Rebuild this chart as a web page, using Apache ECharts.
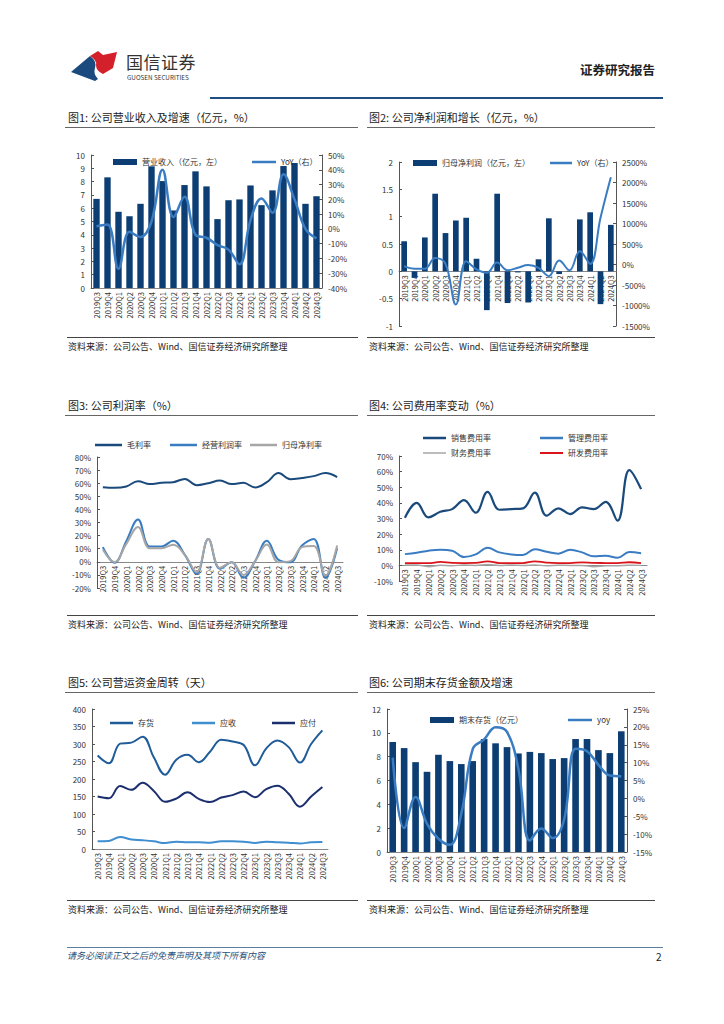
<!DOCTYPE html>
<html><head><meta charset="utf-8">
<script src="https://cdn.jsdelivr.net/npm/echarts@6/dist/echarts.min.js"></script>
<style>
html,body{margin:0;padding:0;background:#fff;}
#page{position:relative;width:724px;height:1024px;overflow:hidden;font-family:"Noto Sans CJK SC","Noto Sans",sans-serif;color:#222;}
#chart{position:absolute;left:0;top:0;width:724px;height:1024px;}
.t{position:absolute;white-space:nowrap;line-height:1.2;}
.ln{position:absolute;height:0;}
.title{font-size:11px;color:#222;}
.src{font-size:9px;color:#222;}
</style></head>
<body><div id="page">
<div id="chart"></div>
<svg style="position:absolute;left:66px;top:48px" width="60" height="36" viewBox="0 0 60 36">
  <path d="M5,24 L24,8 Q31,13 29,20 Q27,26 32,31 L29,33 Z" fill="#1b4a7e"/>
  <path d="M24,8 L32,3 L37,7 L51,4 L47,20 L37,26 Q30,23 30,17 Q31,12 24,8 Z" fill="#d3202a"/>
</svg>
<div class="t" style="left:126px;top:53px;font-size:17px;line-height:1;color:#333;letter-spacing:0.5px;">国信证券</div>
<div class="t" style="left:127px;top:75px;font-size:6.3px;line-height:1;color:#333;">GUOSEN SECURITIES</div>
<div class="t" style="left:580px;top:62px;font-size:12.5px;font-weight:bold;color:#222;">证券研究报告</div>
<div class="ln" style="left:210px;top:97px;width:453px;border-top:2px solid #1f4e86;"></div>

<div class="t title" style="left:68px;top:111px;">图1: 公司营业收入及增速（亿元，%）</div>
<div class="ln" style="left:65px;top:127px;width:293px;border-top:1px solid #666;"></div>
<div class="t title" style="left:369px;top:111px;">图2: 公司净利润和增长（亿元，%）</div>
<div class="ln" style="left:367px;top:127px;width:288px;border-top:1px solid #666;"></div>
<div class="ln" style="left:67px;top:337px;width:291px;border-top:1px solid #444;"></div>
<div class="t src" style="left:68px;top:342px;">资料来源：公司公告、Wind、国信证券经济研究所整理</div>
<div class="ln" style="left:367px;top:337px;width:288px;border-top:1px solid #444;"></div>
<div class="t src" style="left:369px;top:342px;">资料来源：公司公告、Wind、国信证券经济研究所整理</div>

<div class="t title" style="left:68px;top:399px;">图3: 公司利润率（%）</div>
<div class="ln" style="left:65px;top:415px;width:293px;border-top:1px solid #666;"></div>
<div class="t title" style="left:369px;top:399px;">图4: 公司费用率变动（%）</div>
<div class="ln" style="left:367px;top:415px;width:288px;border-top:1px solid #666;"></div>
<div class="ln" style="left:67px;top:615px;width:291px;border-top:1px solid #444;"></div>
<div class="t src" style="left:68px;top:620px;">资料来源：公司公告、Wind、国信证券经济研究所整理</div>
<div class="ln" style="left:367px;top:615px;width:288px;border-top:1px solid #444;"></div>
<div class="t src" style="left:369px;top:620px;">资料来源：公司公告、Wind、国信证券经济研究所整理</div>

<div class="t title" style="left:68px;top:676px;">图5: 公司营运资金周转（天）</div>
<div class="ln" style="left:65px;top:692px;width:293px;border-top:1px solid #666;"></div>
<div class="t title" style="left:369px;top:676px;">图6: 公司期末存货金额及增速</div>
<div class="ln" style="left:367px;top:692px;width:288px;border-top:1px solid #666;"></div>
<div class="ln" style="left:67px;top:900px;width:291px;border-top:1px solid #444;"></div>
<div class="t src" style="left:68px;top:905px;">资料来源：公司公告、Wind、国信证券经济研究所整理</div>
<div class="ln" style="left:367px;top:900px;width:288px;border-top:1px solid #444;"></div>
<div class="t src" style="left:369px;top:905px;">资料来源：公司公告、Wind、国信证券经济研究所整理</div>

<div class="ln" style="left:67px;top:947px;width:596px;border-top:1px solid #5c7fa0;"></div>
<div class="t" style="left:67px;top:951px;font-size:9px;font-style:italic;color:#2a4f7a;">请务必阅读正文之后的免责声明及其项下所有内容</div>
<div class="t" style="left:656px;top:951px;font-size:10px;color:#222;">2</div>
</div>
<script>
var quarters = ['2019Q3','2019Q4','2020Q1','2020Q2','2020Q3','2020Q4','2021Q1','2021Q2','2021Q3','2021Q4','2022Q1','2022Q2','2022Q3','2022Q4','2023Q1','2023Q2','2023Q3','2023Q4','2024Q1','2024Q2','2024Q3'];
// Fig1
var revenue = [6.7,8.32,5.73,5.4,6.33,9.15,8.04,5.83,7.74,8.77,7.64,5.18,6.6,6.66,7.71,6.23,7.34,9.17,9.4,6.33,6.9];
var revenueYoY = [1.8,3,-27,-2,-5.5,5,40,8,21.7,-4,-6,-11,-14,-24,6,20.5,11,37,20,0,-6.5];
// Fig2
var netProfit = [0.55,-0.12,0.62,1.42,0.70,0.93,0.98,0.23,-0.71,1.42,-0.58,-0.02,-0.57,0.22,0.97,-0.05,0.01,0.95,1.08,-0.6,0.85];
var netProfitYoY = [-40,-105,-105,160,15,-975,80,-120,-200,50,-140,-80,-15,-80,-285,100,-140,325,15,1140,2130];
// Fig3
var grossMargin = [57,56.5,57.5,61.5,59.3,60.3,60.8,63.3,58.5,60,62,59.3,60.3,56.7,60.8,67.7,63,64,65.4,67.7,64.6];
var opMargin = [11.2,-0.8,15.8,32.3,11.7,11.7,16,5.3,-9.2,17.5,-5.3,-0.3,-12.2,0.5,16,1.5,-0.3,12.5,17.5,-12.2,10.4];
var netMargin = [9.4,-0.3,13.7,26.5,10.4,10.4,13,5.3,-7.9,17.5,-4.6,-0.3,-10,0.5,13.2,-0.3,0.5,11.2,12,-10.4,12.5];
// Fig4
var sellingRate = [30.5,40,30.7,34.3,36,41.8,33.7,47,35.6,36,36.5,46.5,31.8,36.5,32.8,37.1,36,40.7,28.6,61,48.8];
var adminRate = [7.2,8.1,9.4,10,9.4,5.3,7,11.3,8.3,7,6.6,10.4,8.7,7.5,10,8.3,5.8,6.2,4.9,8.5,7.7];
var financeRate = [0.3,0.2,-0.8,0.1,-0.2,0.2,0.0,0.5,-0.1,0.2,0.0,0.3,-0.3,0.1,0.0,0.0,-0.9,-0.3,-0.2,0.1,0.0];
var rdRate = [1.5,1.5,1.4,2.2,1.6,1.5,1.6,2.6,1.5,1.4,1.5,2.6,1.8,1.5,1.5,1.9,1.6,1.5,1.4,2.0,1.4];
// Fig5
var inventoryDays = [267,245,301,304,321,262,212,255,269,248,278,312,307,297,239,287,310,291,247,300,339];
var receivableDays = [22,23,34,27,25,22,17,21,19,19,18,22,22,21,17,21,19,18,16,19,20];
var payableDays = [150,145,180,169,189,166,135,144,162,143,134,147,154,164,148,171,181,158,121,150,177];
// Fig6
var inventory = [9.23,8.72,7.54,6.73,8.16,7.63,7.38,7.63,9.48,9.12,8.8,8.27,8.4,8.3,7.8,7.88,9.48,9.48,8.55,8.3,10.13];
var inventoryYoY = [11.4,-8.3,0.4,-7.1,-11.3,-13,-4.3,13.8,16.5,19.9,18.6,8.2,-11.8,-8.4,-11.1,-5.9,13.9,13.2,9.4,6.4,6.2];

var FONT = '"Noto Sans CJK SC","Noto Sans",sans-serif';
var NAVY = '#0c3e73', BLUE = '#3a7cc2', DARK = '#1a4a7c', GRAY = '#a6a6a6', RED = '#d9151b';
var axisLineStyle = {lineStyle:{color:'#555',width:1}};
var lab = {fontSize:8,color:'#333',fontFamily:FONT};

function xAxis(grid, offset){
  return {type:'category',gridIndex:grid,data:quarters,offset:offset||0,
    axisLine:{onZero:false,lineStyle:{color:'#888',width:1}},axisTick:{show:false},
    axisLabel:{rotate:90,interval:0,fontSize:7.5,color:'#333',fontFamily:FONT,margin:4}};
}
function yAxis(grid,min,max,interval,fmt,extra){
  return Object.assign({type:'value',gridIndex:grid,min:min,max:max,interval:interval,
    splitLine:{show:false},axisLine:Object.assign({show:true},axisLineStyle),
    axisTick:{show:true,inside:true,length:3,lineStyle:{color:'#555'}},
    axisLabel:Object.assign({formatter:fmt,margin:6},lab)},extra||{});
}
function lg(name,left,top,h,w){
  return {data:[name],left:left,top:top,itemWidth:w||24,itemHeight:h,itemGap:4,
    textStyle:{fontSize:8,color:'#333',fontFamily:FONT},selectedMode:false,icon:'rect'};
}
function line(name,x,y,data,color,w,sm){
  return {name:name,type:'line',xAxisIndex:x,yAxisIndex:y,data:data,smooth:sm===undefined?0.4:sm,
    symbol:'none',lineStyle:{color:color,width:w||2},itemStyle:{color:color}};
}
var pct = function(v){ return v + '%'; };
var num = function(v){ return String(v); };

var option = {
  animation:false,
  textStyle:{fontFamily:FONT},
  grid:[
    {left:91,top:155,width:231,height:133},
    {left:399,top:162,width:217,height:164},
    {left:97,top:457,width:246,height:131},
    {left:399,top:456,width:248,height:125},
    {left:92,top:709,width:236,height:140},
    {left:387,top:709,width:240,height:143}
  ],
  xAxis:[
    xAxis(0),
    xAxis(1,-164/3),
    xAxis(2,-131*0.2),
    xAxis(3,-125/8),
    xAxis(4),
    xAxis(5)
  ],
  yAxis:[
    yAxis(0,0,10,1,num),
    yAxis(0,-40,50,10,pct,{position:'right'}),
    yAxis(1,-1,2,0.5,num),
    yAxis(1,-1500,2500,500,pct,{position:'right'}),
    yAxis(2,-20,80,10,pct),
    yAxis(3,-10,70,10,pct),
    yAxis(4,0,400,50,num),
    yAxis(5,0,12,2,num),
    yAxis(5,-15,25,5,pct,{position:'right'})
  ],
  legend:[
    lg('营业收入（亿元，左）',108,153,6),
    lg('YoY（右）',247,153,2.5),
    lg('归母净利润（亿元，左）',408,154,6),
    lg('YoY（右） ',545,154,2.5,22),
    lg('毛利率',90,436,2.5,27),
    lg('经营利润率',165,436,2.5,27),
    lg('归母净利率',245,436,2.5,27),
    lg('销售费用率',418,429,2.5,23),
    lg('管理费用率',535,429,2.5,23),
    lg('财务费用率',418,444,1.5,23),
    lg('研发费用率',535,444,2,23),
    lg('存货',105,714,2.5,23),
    lg('应收',187,714,2.5,23),
    lg('应付',267,714,2.5,23),
    lg('期末存货（亿元）',425,711,6),
    lg('yoy',563,711,2.5)
  ],
  series:[
    {name:'营业收入（亿元，左）',type:'bar',xAxisIndex:0,yAxisIndex:0,data:revenue,barWidth:'58%',itemStyle:{color:NAVY}},
    line('YoY（右）',0,1,revenueYoY,BLUE,2.5),
    {name:'归母净利润（亿元，左）',type:'bar',xAxisIndex:1,yAxisIndex:2,data:netProfit,barWidth:'55%',itemStyle:{color:NAVY}},
    line('YoY（右） ',1,3,netProfitYoY,BLUE,2),
    line('毛利率',2,4,grossMargin,DARK,2),
    line('经营利润率',2,4,opMargin,BLUE,2),
    line('归母净利率',2,4,netMargin,GRAY,2),
    line('销售费用率',3,5,sellingRate,DARK,2.2),
    line('管理费用率',3,5,adminRate,BLUE,2),
    line('财务费用率',3,5,financeRate,GRAY,1.5),
    line('研发费用率',3,5,rdRate,RED,1.8),
    line('存货',4,6,inventoryDays,'#1f5c99',2),
    line('应收',4,6,receivableDays,'#3e8ed0',2),
    line('应付',4,6,payableDays,'#1b2f6e',2),
    {name:'期末存货（亿元）',type:'bar',xAxisIndex:5,yAxisIndex:7,data:inventory,barWidth:'58%',itemStyle:{color:NAVY}},
    line('yoy',5,8,inventoryYoY,BLUE,2.5)
  ]
};
var chart = echarts.init(document.getElementById('chart'),null,{renderer:'svg',width:724,height:1024});
chart.setOption(option);
</script>
</body></html>
